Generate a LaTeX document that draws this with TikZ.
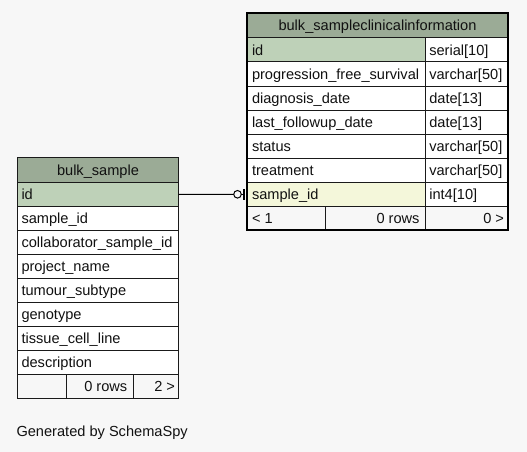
\documentclass[tikz,border=0pt]{standalone}
\usepackage{fontspec}
\setmainfont{Liberation Sans}
\newfontfamily\tabfont{Liberation Sans}
\definecolor{bgc}{HTML}{F7F7F7}
\definecolor{hdr}{HTML}{9BAB96}
\definecolor{pk}{HTML}{BED1B8}
\definecolor{fk}{HTML}{F4F7DA}
\definecolor{linec}{HTML}{1A1A1A}
\definecolor{textc}{HTML}{111111}
\tikzset{
  cell/.style={draw=linec, line width=1pt, anchor=north west, minimum height=24pt,
    inner sep=0pt, outer sep=0pt, fill=white},
  txtbase/.style={inner sep=0pt, outer sep=0pt, text=textc,
    font=\tabfont\fontsize{14.6pt}{17pt}\selectfont},
  txt/.style={txtbase, text height=10.5pt, text depth=0pt},
  conn/.style={draw=black, line width=1pt},
  dotc/.style={circle, draw=black, line width=1pt, fill=bgc, minimum size=7.6pt, inner sep=0pt, outer sep=0pt},
  teebar/.style={rectangle, fill=black, minimum width=2pt, minimum height=11pt, inner sep=0pt, outer sep=0pt},
}
\begin{document}
\begin{tikzpicture}[x=1pt,y=-1pt]
\useasboundingbox[fill=bgc] (0,0) rectangle (527,452);

% ---------- right table: bulk_sampleclinicalinformation ----------
\node[cell, fill=hdr, minimum width=261pt, minimum height=25pt] (rh) at (247,13) {};
\node[txt] (rht) at (rh.center) {bulk\_sampleclinicalinformation};
\foreach \n/\t/\c [count=\i from 0] in {
  id/serial[10]/pk,
  progression\_free\_survival/varchar[50]/white,
  diagnosis\_date/date[13]/white,
  last\_followup\_date/date[13]/white,
  status/varchar[50]/white,
  treatment/varchar[50]/white,
  sample\_id/int4[10]/fk}{
  \node[cell, fill=\c, minimum width=178pt] (rn\i) at (247,38+24*\i) {};
  \node[cell, minimum width=83pt] (rt\i) at (425,38+24*\i) {};
  \node[txt, anchor=west] (rnt\i) at ([xshift=5pt]rn\i.west) {\n};
  \node[txt, anchor=west] (rtt\i) at ([xshift=4.3pt]rt\i.west) {\t};
}
\node[cell, fill=bgc, minimum width=78.7pt] (rf1) at (247,206) {};
\node[cell, fill=bgc, minimum width=99.3pt] (rf2) at (325.7,206) {};
\node[cell, fill=bgc, minimum width=83pt] (rf3) at (425,206) {};
\node[txt, anchor=west] (rf1t) at ([xshift=5pt]rf1.west) {< 1};
\node[txt, anchor=east] (rf2t) at ([xshift=-5.5pt]rf2.east) {0 rows};
\node[txt, anchor=east] (rf3t) at ([xshift=-4pt]rf3.east) {0 >};
\draw[line width=2.7pt, draw=black] (rh.north west) rectangle (rf3.south east);

% ---------- left table: bulk_sample ----------
\node[cell, fill=hdr, minimum width=161pt, minimum height=25pt] (lh) at (17.5,157.5) {};
\node[txt] (lht) at (lh.center) {bulk\_sample};
\foreach \n/\c [count=\i from 0] in {
  id/pk,
  sample\_id/white,
  collaborator\_sample\_id/white,
  project\_name/white,
  tumour\_subtype/white,
  genotype/white,
  tissue\_cell\_line/white,
  description/white}{
  \node[cell, fill=\c, minimum width=161pt] (ln\i) at (17.5,182.5+24*\i) {};
  \node[txt, anchor=west] (lnt\i) at ([xshift=4pt]ln\i.west) {\n};
}
\node[cell, fill=bgc, minimum width=49.2pt] (lf1) at (17.5,374.5) {};
\node[cell, fill=bgc, minimum width=66.6pt] (lf2) at (66.7,374.5) {};
\node[cell, fill=bgc, minimum width=45.2pt] (lf3) at (133.3,374.5) {};
\node[txt, anchor=east] (lf2t) at ([xshift=-6pt]lf2.east) {0 rows};
\node[txt, anchor=east] (lf3t) at ([xshift=-3.5pt]lf3.east) {2 >};
\draw[line width=1.4pt, draw=linec] (lh.north west) rectangle (lf3.south east);

% ---------- connector ----------
\node[dotc] (dot) at (237.5,194.3) {};
\node[teebar] (tee) at (244.2,194.3) {};
\draw[conn] (ln0.east) -- (dot.west);
\draw[conn] (dot.east) -- (tee.west);

% ---------- footer text ----------
\node[txtbase, anchor=base west] (gen) at (16.5,436.7) {Generated by SchemaSpy};
\end{tikzpicture}
\end{document}
